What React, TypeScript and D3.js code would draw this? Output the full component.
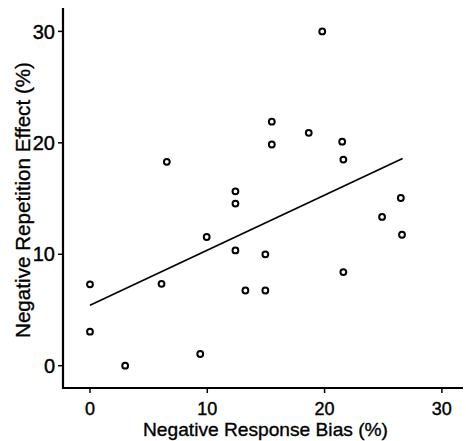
import React from "react";
import * as d3 from "d3";

const biasX: number[] = [0, 0, 3.0, 6.1, 6.55, 9.4, 9.95, 12.4, 12.4, 12.4, 13.25, 14.95, 14.95, 15.5, 15.5, 18.65, 19.8, 21.5, 21.6, 21.6, 24.9, 26.5, 26.6];
const effectY: number[] = [7.3, 3.05, 0, 7.35, 18.3, 1.05, 11.55, 15.65, 14.55, 10.35, 6.75, 10.0, 6.75, 21.9, 19.85, 20.9, 30.0, 20.1, 18.5, 8.4, 13.35, 15.05, 11.75];
const fitX: number[] = [0, 26.65];
const fitY: number[] = [5.42, 18.6];
const xTicks: number[] = [0, 10, 20, 30];
const yTicks: number[] = [0, 10, 20, 30];
const xTitle = "Negative Response Bias (%)";
const yTitle = "Negative Repetition Effect (%)";

const W = 466;
const H = 441;

export default function App() {
  const x = d3.scaleLinear().domain([-2.3, 31.8]).range([63, 463]);
  const y = d3.scaleLinear().domain([-2, 32.1]).range([388, 8]);
  const [x0, x1] = x.range();
  const [y0, y1] = y.range();
  const line = d3
    .line<number>()
    .x((_, i) => x(fitX[i]))
    .y((_, i) => y(fitY[i]));
  const font = "'Liberation Sans', Arial, Helvetica, sans-serif";
  return (
    <svg
      width={W}
      height={H}
      style={{ position: "absolute", left: 0, top: 0, background: "#fff" }}
      fontFamily={font}
    >
      <rect width={W} height={H} fill="#fff" />
      <line x1={x0} x2={x0} y1={y1} y2={y0 + 1} stroke="#000" strokeWidth={2.2} />
      <line x1={x0 - 1} x2={x1} y1={y0} y2={y0} stroke="#000" strokeWidth={2.2} />
      {yTicks.map((t) => (
        <g key={"y" + t}>
          <line x1={x0 - 5} x2={x0} y1={y(t)} y2={y(t)} stroke="#000" strokeWidth={1.5} />
          <text
            x={x0 - 8}
            y={y(t)}
            dy="0.36em"
            textAnchor="end"
            fontSize={20}
            stroke="#000"
            strokeWidth={0.4}
          >
            {t}
          </text>
        </g>
      ))}
      {xTicks.map((t) => (
        <g key={"x" + t}>
          <line x1={x(t)} x2={x(t)} y1={y0} y2={y0 + 5} stroke="#000" strokeWidth={1.5} />
          <text
            x={x(t)}
            y={415}
            textAnchor="middle"
            fontSize={18}
            stroke="#000"
            strokeWidth={0.4}
          >
            {t}
          </text>
        </g>
      ))}
      <text
        x={265.5}
        y={436}
        textAnchor="middle"
        fontSize={19}
        stroke="#000"
        strokeWidth={0.35}
        textLength={245}
        lengthAdjust="spacingAndGlyphs"
      >
        {xTitle}
      </text>
      <text
        transform={`translate(30,200) rotate(-90)`}
        textAnchor="middle"
        fontSize={19.5}
        stroke="#000"
        strokeWidth={0.35}
        textLength={276}
        lengthAdjust="spacingAndGlyphs"
      >
        {yTitle}
      </text>
      <path d={line(fitX) || ""} fill="none" stroke="#000" strokeWidth={1.7} />
      {biasX.map((v, i) => (
        <circle
          key={i}
          cx={x(v)}
          cy={y(effectY[i])}
          r={2.9}
          fill="#fff"
          stroke="#000"
          strokeWidth={2}
        />
      ))}
    </svg>
  );
}
